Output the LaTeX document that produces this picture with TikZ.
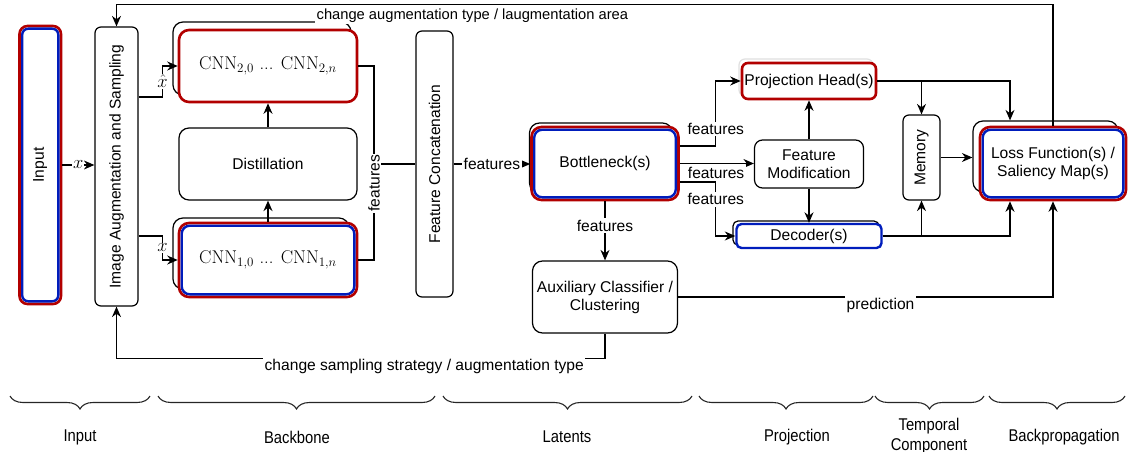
\RequirePackage{fix-cm}
\documentclass[tikz,border=0pt]{standalone}
\usepackage{fontspec}
\usepackage{tikz}
\usetikzlibrary{arrows.meta,calc,decorations.pathreplacing}
\newfontfamily\arial{Liberation Sans}
\newfontfamily\arialnarrow[FakeStretch=0.87]{Liberation Sans}
\definecolor{darkred}{HTML}{B20000}
\definecolor{darkblue}{HTML}{001DBC}
\newcommand{\txt}{\fontsize{15.6}{18}\selectfont\arial}
\newcommand{\cnnfont}{\fontsize{18.5}{22}\selectfont}
% blue frame just inside a red one
\newcommand{\insetframe}[2][8pt]{%
  \draw[insetline, rounded corners=#1] ([xshift=4pt,yshift=-4pt]#2.north west)
    rectangle ([xshift=-4pt,yshift=4pt]#2.south east);}
\tikzset{
  box/.style       = {draw, fill=white, rounded corners=10pt, line width=1.2pt,
                      align=center, font=\txt, inner sep=2pt},
  slim/.style      = {box, rounded corners=6pt},
  stackbox/.style  = {draw, fill=white, rounded corners=10pt, line width=1.2pt},
  redbox/.style    = {box, draw=darkred, line width=2.6pt},
  bluebox/.style   = {box, draw=darkblue, line width=2.4pt, rounded corners=5pt},
  insetline/.style = {draw=darkblue, line width=2.4pt},
  flow/.style      = {-{Stealth[length=10.5pt,width=9pt]}, line width=1.2pt},
  wire/.style      = {line width=1.2pt},
  lbl/.style       = {fill=white, inner sep=1.5pt, font=\txt},
  mlbl/.style      = {fill=white, inner sep=1pt, font=\cnnfont},
  curly/.style     = {decorate, decoration={brace, mirror, amplitude=13pt},
                      line width=1.1pt, draw=black!85},
  partlabel/.style = {align=center, font=\fontsize{17}{20}\selectfont\arialnarrow},
}

\begin{document}
\begin{tikzpicture}[x=1pt, y=-1pt]
\useasboundingbox (0,0) rectangle (1135,452);

% stacked copies behind
\node[stackbox, minimum width=178pt, minimum height=73pt] (cnn2b) at (262,58.5) {};
\node[stackbox, minimum width=176pt, minimum height=71pt] (cnn1b) at (261,253.5) {};
\node[stackbox, minimum width=143pt, minimum height=70pt] (bneckb) at (601,158) {};
\node[stackbox, draw=black!12, rounded corners=6pt, minimum width=134pt, minimum height=37pt] (projb) at (806,77.5) {};
\node[stackbox, rounded corners=5pt, minimum width=146pt, minimum height=24pt] (decb) at (806,233) {};
\node[stackbox, minimum width=145pt, minimum height=71pt] (lossb) at (1045.5,156.5) {};

% blocks
\node[redbox, rounded corners=8pt, minimum width=41.5pt, minimum height=278pt,
      label={[rotate=90, font=\txt]center:Input}] (inp) at (40.25,165) {};
\insetframe[6pt]{inp}
\node[slim, minimum width=43pt, minimum height=279pt,
      label={[rotate=90, font=\txt]center:Image Augmentation and Sampling}] (aug) at (116.5,166.5) {};
\node[redbox, minimum width=178pt, minimum height=72pt, font=\cnnfont] (cnn2) at (268,66)
      {$\mathrm{CNN}_{2,0}$ ... $\mathrm{CNN}_{2,n}$};
\node[box, minimum width=178pt, minimum height=72pt] (dist) at (268,164) {Distillation};
\node[redbox, minimum width=178pt, minimum height=74pt] (cnn1) at (268,260) {};
\insetframe{cnn1}
\node[font=\cnnfont] at (cnn1) {$\mathrm{CNN}_{1,0}$ ... $\mathrm{CNN}_{1,n}$};
\node[slim, minimum width=37pt, minimum height=266pt,
      label={[rotate=90, font=\txt]center:Feature Concatenation}] (concat) at (434.5,164) {};
\node[redbox, minimum width=147pt, minimum height=73pt] (bneck) at (605,163.5) {};
\insetframe{bneck}
\node[font=\txt] at (bneck) {Bottleneck(s)};
\node[box, minimum width=145pt, minimum height=72pt] (aux) at (605,297) {Auxiliary Classifier /\\Clustering};
\node[redbox, rounded corners=6pt, minimum width=134pt, minimum height=36pt] (proj) at (809,81) {Projection Head(s)};
\node[box, rounded corners=8pt, minimum width=109pt, minimum height=48pt] (fmod) at (809,164) {Feature\\Modification};
\node[bluebox, minimum width=145pt, minimum height=24pt] (dec) at (809,236) {Decoder(s)};
\node[slim, minimum width=37pt, minimum height=85pt,
      label={[rotate=90, font=\txt]center:Memory}] (mem) at (921.5,157.5) {};
\node[redbox, minimum width=146pt, minimum height=73pt] (loss) at (1053,163.5) {};
\insetframe{loss}
\node[font=\txt, align=center] at (loss) {Loss Function(s) /\\Saliency Map(s)};

% backbone
\draw[flow] (inp.east) -- node[mlbl]{$x$} (inp.east -| aug.west);
\draw[flow] ([yshift=69.5pt]aug.east) -- ++(24,0) |- node[mlbl, pos=0.25]{$\hat{x}$} (cnn2.west);
\draw[flow] ([yshift=-69.5pt]aug.east) -- ++(24,0) |- node[mlbl, pos=0.25]{$x$} (cnn1.west);
\draw[flow] (dist) -- (cnn2);
\draw[flow, line width=2pt] (cnn1) -- (dist);
\coordinate (join) at (374,164);
\draw[wire] (cnn2.east) -| (join);
\draw[wire] (join) -- (join -| concat.west);
\draw[wire] (cnn1.east) -| node[lbl, rotate=90, pos=0.9]{features} (join);

% latents and heads
\draw[flow] (concat.east) -- node[lbl]{features} (concat.east -| bneck.west);
\draw[flow] (bneck) -- node[lbl, pos=0.41]{features} (aux);
\draw[flow] ([yshift=17.5pt]bneck.east) -- ++(36,0) |- node[lbl, pos=0.13]{features} (proj.west);
\draw[flow] (bneck.east) -- node[lbl, pos=0.49, yshift=-9pt]{features} (bneck.east -| fmod.west);
\draw[flow] ([yshift=-18.5pt]bneck.east) -- ++(36,0) |- node[lbl, pos=0.16]{features} (dec.west);
\draw[flow] (fmod) -- (proj);
\draw[flow] (fmod) -- (dec);
\draw[flow] (proj.east) -| (mem.north);
\draw[flow] (proj.east) -| ([xshift=-35.5pt]lossb.north);
\draw[flow] (dec.east) -| (mem.south);
\draw[flow] (dec.east) -| ([xshift=-43pt]loss.south);
\draw[flow] (mem.east) -- (mem.east -| lossb.west);
\draw[flow] (aux.east) -| node[lbl, pos=0.27, yshift=-8pt]{prediction} (loss.south);

% feedback loops
\draw[flow] (loss.north) -- ++(0,-121) -| node[lbl, font=\fontsize{14.7}{17}\selectfont\arial, pos=0.31, yshift=-11pt]{change augmentation type / laugmentation area} (aug.north);
\draw[flow] (aux.south) -- ++(0,25) -| node[lbl, pos=0.185, yshift=-8pt]{change sampling strategy / augmentation type} (aug.south);

% stages
\draw[curly] (10,396) -- (150,396);
\draw[curly] (158,396) -- (435,396);
\draw[curly] (443,396) -- (692,396);
\draw[curly] (699,396) -- (873,396);
\draw[curly] (875,396) -- (984,396);
\draw[curly] (989,396) -- (1125,396);
\node[partlabel] (sinput) at (80,437) {Input};
\node[partlabel] (sbackbone) at (297,437) {Backbone};
\node[partlabel] (slatent) at (567,437) {Latents};
\node[partlabel] (sproj) at (797,437) {Projection};
\node[partlabel] (stemp) at (929,436) {Temporal\\Component};
\node[partlabel] (sback) at (1064,437) {Backpropagation};
\end{tikzpicture}
\end{document}
